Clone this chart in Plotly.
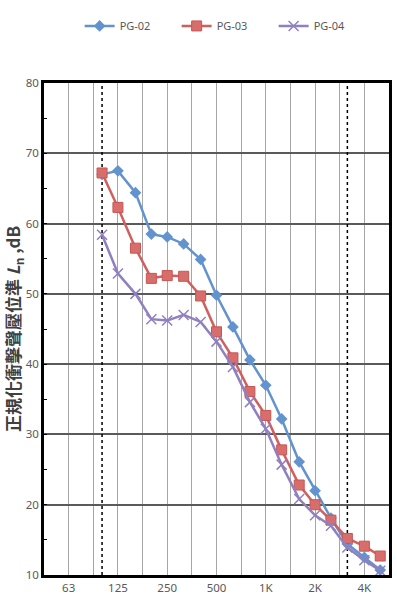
import math
import plotly.graph_objects as go

freqs = [100, 125, 160, 200, 250, 315, 400, 500, 630, 800, 1000, 1250, 1600, 2000, 2500, 3150, 4000, 5000]
pg02 = [67.0, 67.5, 64.4, 58.5, 58.1, 57.1, 54.9, 49.8, 45.3, 40.6, 37.0, 32.2, 26.1, 22.0, 18.1, 14.4, 12.5, 10.7]
pg03 = [67.2, 62.3, 56.5, 52.2, 52.6, 52.5, 49.7, 44.6, 40.9, 36.1, 32.7, 27.8, 22.8, 20.0, 17.8, 15.2, 14.1, 12.7]
pg04 = [58.4, 52.9, 50.0, 46.4, 46.2, 47.0, 46.0, 43.2, 39.6, 34.6, 30.8, 25.7, 20.8, 18.5, 17.0, 13.9, 12.1, 10.6]

grid_freqs = [62.5 * 2 ** (k / 2) for k in range(0, 13)]
grid_labels = ["63", "", "125", "", "250", "", "500", "", "1K", "", "2K", "", "4K"]
ref_freqs = [100, 3150]
y_range = [10, 80]

fig = go.Figure()

for f in ref_freqs:
    fig.add_trace(go.Scatter(x=[f, f], y=y_range, mode="lines",
                             line=dict(color="black", width=1.5, dash="dot"),
                             showlegend=False, hoverinfo="skip"))

fig.add_trace(go.Scatter(x=freqs, y=pg02, name="PG-02", mode="lines+markers",
                         line=dict(color="#6393CF", width=2.5),
                         marker=dict(symbol="diamond", size=9, color="#6393CF")))
fig.add_trace(go.Scatter(x=freqs, y=pg03, name="PG-03", mode="lines+markers",
                         line=dict(color="#D0605E", width=2.5),
                         marker=dict(symbol="square", size=10, color="#D86E6C",
                                     line=dict(color="#C85552", width=1))))
fig.add_trace(go.Scatter(x=freqs, y=pg04, name="PG-04", mode="lines+markers",
                         line=dict(color="#9080C0", width=2.5),
                         marker=dict(symbol="x-thin", size=10, color="#9080C0",
                                     line=dict(color="#9080C0", width=1.5))))

fig.update_layout(
    width=397, height=616,
    margin=dict(l=44, r=5, t=83, b=41),
    paper_bgcolor="white", plot_bgcolor="white",
    font=dict(family="Noto Sans", size=11, color="#595959"),
    legend=dict(orientation="h", x=0.525, xanchor="center", y=1.116, yanchor="middle",
                font=dict(size=11, color="#595959"),
                entrywidth=52, entrywidthmode="pixels", itemwidth=30),
    xaxis=dict(type="log",
               range=[math.log10(62.5 / 2 ** 0.5), math.log10(4000 * 2 ** 0.5)],
               tickvals=grid_freqs, ticktext=grid_labels,
               showgrid=True, gridcolor="#A6A6A6", gridwidth=1,
               showline=True, linecolor="black", linewidth=2.5, mirror=True,
               ticks="", zeroline=False, tickfont=dict(size=11.5, color="#595959")),
    yaxis=dict(range=y_range, dtick=10,
               showgrid=True, gridcolor="#5A5A5A", gridwidth=1.5,
               showline=True, linecolor="black", linewidth=2.5, mirror=True,
               ticks="inside", ticklen=3, tickcolor="black",
               minor=dict(ticks="inside", dtick=5, ticklen=3, tickcolor="black", showgrid=False),
               zeroline=False, tickfont=dict(size=11.5, color="#595959"),
               title=dict(text="<b>正規化衝擊聲壓位準 <i>L</i><sub>n</sub> ,dB</b>",
                          font=dict(family="Noto Sans CJK TC", size=17, color="#404040"),
                          standoff=6)),
)

fig.write_html("out.html")
